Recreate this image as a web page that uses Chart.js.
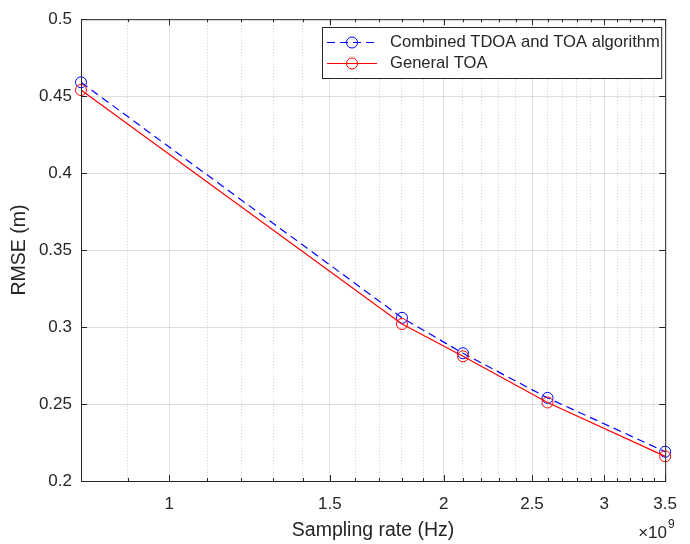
<!DOCTYPE html>
<html>
<head>
<meta charset="utf-8">
<script src="https://cdn.jsdelivr.net/npm/chart.js@4.4.1/dist/chart.umd.min.js"></script>
<style>
  html, body { margin:0; padding:0; background:#fff; }
  canvas { display:block; }
</style>
</head>
<body>
<canvas id="rmseChart" width="690" height="544"></canvas>
<script>
// sampling rate in units of 1e9 Hz
const samplingRate = [0.8, 1.8, 2.1, 2.6, 3.5];
const combinedRmse = [0.459, 0.306, 0.283, 0.254, 0.219];
const generalRmse  = [0.454, 0.302, 0.281, 0.251, 0.216];

const xMajorTicks = [1, 1.5, 2, 2.5, 3, 3.5];
const xTickLabels = ["1", "1.5", "2", "2.5", "3", "3.5"];
const yTicks = [0.2, 0.25, 0.3, 0.35, 0.4, 0.45, 0.5];
const seriesNames = ["Combined TDOA and TOA algorithm", "General TOA"];

const FONT = "'Liberation Sans', Arial, Helvetica, sans-serif";
const TEXT = "#262626";
const AXIS = "#262626";

// minor ticks every 0.1 between the axis limits
const xAllTicks = [];
for (let k = 8; k <= 35; k++) xAllTicks.push(k / 10);

function isMajor(v){
  return xMajorTicks.some(m => Math.abs(m - v) < 1e-6);
}

function toPoints(xs, ys){
  return xs.map((x, i) => ({x: x, y: ys[i]}));
}

// box + inward ticks like matlab
const axesBox = {
  id: "axesBox",
  afterDatasetsDraw(chart){
    const {ctx, chartArea: a, scales} = chart;
    ctx.save();
    ctx.strokeStyle = AXIS;
    ctx.lineWidth = 1;
    ctx.strokeRect(a.left + 0.5, a.top + 0.5, a.right - a.left, a.bottom - a.top);
    ctx.beginPath();
    xAllTicks.forEach(v => {
      const len = isMajor(v) ? 6 : 3;
      const px = Math.round(scales.x.getPixelForValue(v)) + 0.5;
      ctx.moveTo(px, a.bottom); ctx.lineTo(px, a.bottom - len);
      ctx.moveTo(px, a.top); ctx.lineTo(px, a.top + len);
    });
    yTicks.forEach(v => {
      const py = Math.round(scales.y.getPixelForValue(v)) + 0.5;
      ctx.moveTo(a.left, py); ctx.lineTo(a.left + 6, py);
      ctx.moveTo(a.right, py); ctx.lineTo(a.right - 6, py);
    });
    ctx.stroke();

    // x10^9 exponent
    ctx.fillStyle = TEXT;
    ctx.textBaseline = "alphabetic";
    ctx.textAlign = "right";
    ctx.font = "17px " + FONT;
    ctx.fillText("\u00d710", 667, 538);
    ctx.textAlign = "left";
    ctx.font = "12px " + FONT;
    ctx.fillText("9", 668, 528);
    ctx.restore();
  }
};

// legend box in the top right corner
const boxLegend = {
  id: "boxLegend",
  afterDraw(chart){
    const {ctx, chartArea: a} = chart;
    const bx = 322, by = 27, bw = a.right - 4 - bx, bh = 51;
    ctx.save();
    ctx.fillStyle = "#fff";
    ctx.fillRect(bx, by, bw, bh);
    ctx.strokeStyle = AXIS;
    ctx.lineWidth = 1;
    ctx.strokeRect(bx + 0.5, by + 0.5, bw, bh);
    const rows = [42, 63];
    chart.data.datasets.forEach((ds, i) => {
      const y = rows[i] + 0.5;
      ctx.strokeStyle = ds.borderColor;
      ctx.lineWidth = ds.borderWidth;
      ctx.setLineDash(ds.borderDash || []);
      ctx.beginPath();
      ctx.moveTo(327, y); ctx.lineTo(377, y);
      ctx.stroke();
      ctx.setLineDash([]);
      ctx.lineWidth = 1;
      ctx.beginPath();
      ctx.arc(352, y, 5.5, 0, Math.PI * 2);
      ctx.stroke();
      ctx.fillStyle = TEXT;
      ctx.font = "16.6px " + FONT;
      ctx.textBaseline = "middle";
      ctx.textAlign = "left";
      ctx.fillText(ds.label, 390, y);
    });
    ctx.restore();
  }
};

new Chart(document.getElementById("rmseChart"), {
  type: "line",
  data: {
    datasets: [{
      label: seriesNames[0],
      data: toPoints(samplingRate, combinedRmse),
      borderColor: "#0000ff",
      borderWidth: 1.2,
      borderDash: [8, 5],
      pointStyle: "circle",
      pointRadius: 5.5,
      pointBorderWidth: 1,
      pointBackgroundColor: "rgba(0,0,0,0)",
      pointBorderColor: "#0000ff",
      fill: false,
      tension: 0,
      clip: false,
      order: 1
    }, {
      label: seriesNames[1],
      data: toPoints(samplingRate, generalRmse),
      borderColor: "#ff0000",
      borderWidth: 1.2,
      pointStyle: "circle",
      pointRadius: 5.5,
      pointBorderWidth: 1,
      pointBackgroundColor: "rgba(0,0,0,0)",
      pointBorderColor: "#ff0000",
      fill: false,
      tension: 0,
      clip: false,
      order: 0
    }]
  },
  options: {
    responsive: false,
    animation: false,
    devicePixelRatio: 1,
    layout: { padding: { top: 13, right: 16, left: 0, bottom: 0 } },
    plugins: { legend: { display: false }, tooltip: { enabled: false } },
    scales: {
      x: {
        type: "logarithmic",
        min: 0.8,
        max: 3.5,
        afterBuildTicks: scale => { scale.ticks = xAllTicks.map(v => ({value: v})); },
        afterFit: scale => { scale.height = 63; },
        ticks: {
          autoSkip: false,
          maxRotation: 0,
          padding: 13,
          color: TEXT,
          font: { family: FONT, size: 17 },
          callback: v => {
            const i = xMajorTicks.findIndex(m => Math.abs(m - v) < 1e-6);
            return i >= 0 ? xTickLabels[i] : "";
          }
        },
        grid: {
          drawTicks: false,
          lineWidth: 1,
          color: ctx => (ctx.tick && !isMajor(ctx.tick.value)) ? "rgba(40,40,40,0.22)" : "rgba(40,40,40,0.15)"
        },
        border: {
          display: false,
          dash: ctx => (ctx.tick && !isMajor(ctx.tick.value)) ? [1, 2] : []
        },
        title: {
          display: true,
          text: "Sampling rate (Hz)",
          color: TEXT,
          font: { family: FONT, size: 19.5 },
          padding: { top: 0, bottom: 2 }
        }
      },
      y: {
        min: 0.2,
        max: 0.5,
        afterBuildTicks: scale => { scale.ticks = yTicks.map(v => ({value: v})); },
        afterFit: scale => { scale.width = 81; },
        ticks: {
          padding: 9,
          color: TEXT,
          font: { family: FONT, size: 17 },
          callback: v => String(+v.toFixed(2))
        },
        grid: { drawTicks: false, lineWidth: 1, color: "rgba(40,40,40,0.15)" },
        border: { display: false },
        title: {
          display: true,
          text: "RMSE (m)",
          color: TEXT,
          font: { family: FONT, size: 19.5 },
          padding: { top: 8, bottom: 0 }
        }
      }
    }
  },
  plugins: [axesBox, boxLegend]
});
</script>
</body>
</html>
